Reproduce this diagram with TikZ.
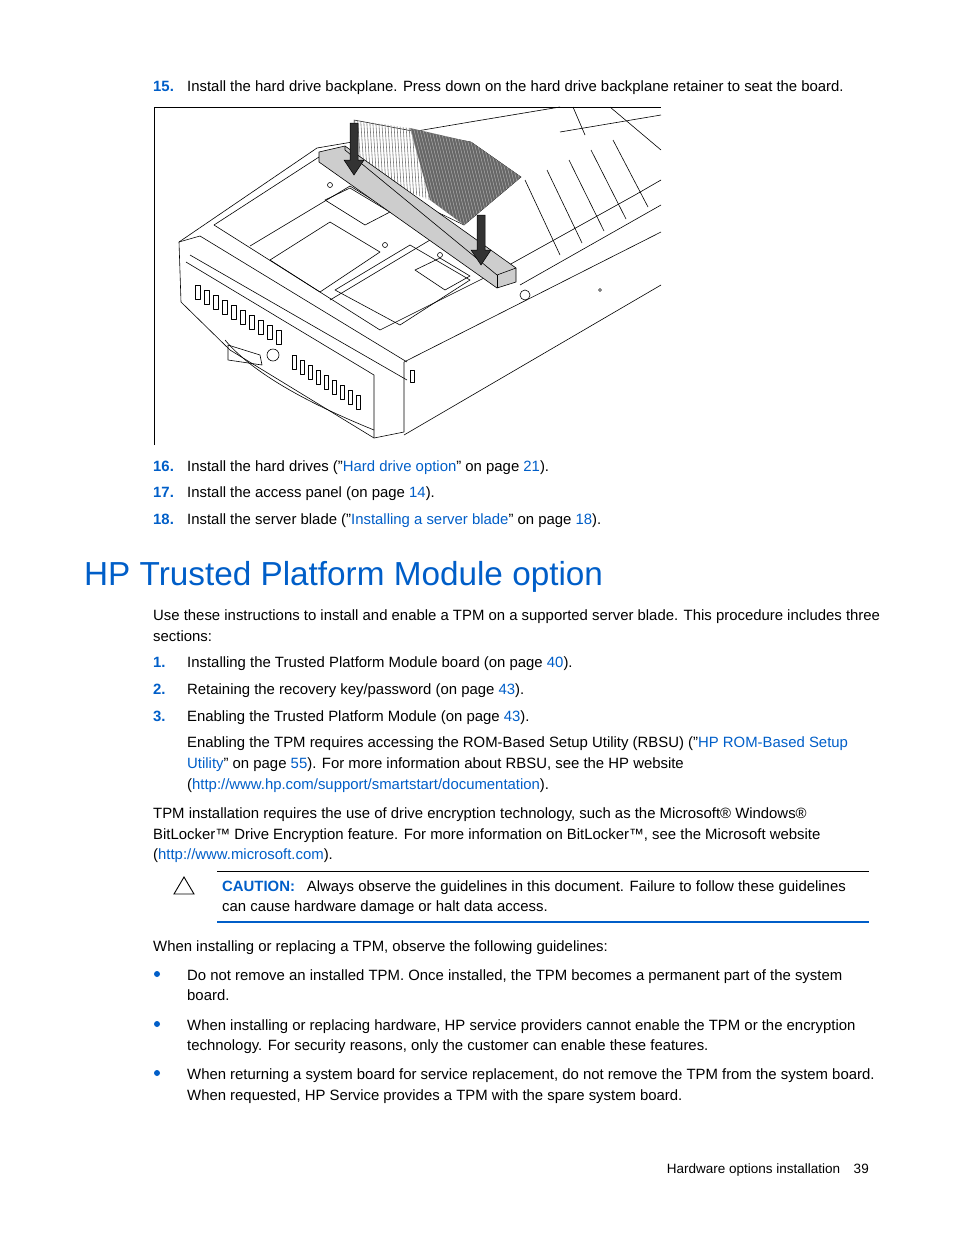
\documentclass[tikz,border=0pt]{standalone}
\usepackage{fontspec}
\setmainfont{Liberation Sans}
\definecolor{hpblue}{RGB}{0,94,200}
\definecolor{bargray}{RGB}{205,205,205}
\definecolor{fin}{RGB}{120,120,120}
\begin{document}
\begin{tikzpicture}[x=1pt,y=-1pt,
  txt/.style={anchor=base west,inner sep=0pt,font=\fontsize{14.9}{17}\selectfont},
  num/.style={txt,text=hpblue,font=\fontsize{14.9}{17}\selectfont\bfseries},
  bul/.style={circle,fill=hpblue,inner sep=0pt,minimum size=6pt},
  ln/.style={draw=black,line width=0.6pt,line join=round},
  arr/.style={draw=black,fill=black!80,line width=0.5pt}]
\useasboundingbox (0,0) rectangle (954,1235);
\def\b{\color{hpblue}}
% step 15
\node[num] (n15) at (153,91) {15.};
\node[txt] (t15) at (187,91) {Install the hard drive backplane. Press down on the hard drive backplane retainer to seat the board.};
% figure frame
\draw[line width=0.8pt] (154,445) -- (154,107) -- (661,107);
% chassis
\begin{scope}[ln]
\fill[white] (179,242) -- (317,148) -- (661,125) -- (661,232) -- (404,362) -- (374,438) -- (181,302) -- cycle;
\draw (179,242) -- (317,148) -- (470,122);
\draw (179,242) -- (181,302) -- (230,350) -- (374,438) -- (404,432) -- (404,362);
\draw (179,242) -- (200,236) -- (407,362);
\draw (190,255) -- (407,380);
\draw (404,362) -- (661,232);
\draw (404,435) -- (661,285);
\draw (374,438) -- (374,375) -- (186,262);
\draw (214,225) -- (319,157);
\draw (214,225) -- (380,330) -- (500,270);
\draw (250,246) -- (350,186) -- (445,244);
\draw (330,300) -- (430,240) -- (500,283);
% drive bays
\draw (270,260) -- (330,222) -- (380,252) -- (320,292) -- cycle;
\draw (335,290) -- (410,245) -- (470,280) -- (400,325) -- cycle;
\draw (325,200) -- (350,188) -- (390,212) -- (365,225) -- cycle;
\draw (415,270) -- (440,258) -- (470,276) -- (445,290) -- cycle;
% right side compartments
\draw (470,122) -- (560,107);
\draw (500,270) -- (635,195) -- (661,180);
\draw (520,285) -- (661,205);
\draw (560,132) -- (661,115);
\foreach \i in {0,1,2,3,4} {
  \draw ({525+\i*22},{180-\i*10}) -- ({560+\i*22},{255-\i*12});
}
\draw (573,107) -- (585,135);
\draw (610,107) -- (661,150);
% front bezel details
\foreach \i in {0,...,9} {
  \draw ({195+\i*9},{285+\i*5}) rectangle ++(5,14);
}
\foreach \i in {0,...,8} {
  \draw ({292+\i*8},{355+\i*5}) rectangle ++(4,14);
}
\draw (225,340) .. controls (250,370) and (300,400) .. (374,430);
\draw (228,345) -- (260,355) -- (262,365) -- (228,360) -- cycle;
\draw (273,355) circle (6);
\draw (525,295) circle (5);
\draw (440,255) circle (2.5); \draw (385,245) circle (2.5); \draw (330,185) circle (2.5);
\draw (600,290) circle (1.5);
\draw (410,370) rectangle ++(4,12);
\end{scope}
% heatsinks
\fill[white,draw=black,line width=0.5pt] (354,120) -- (471,142) -- (521,177) -- (464,225) -- (354,172) -- cycle;
\begin{scope}
\clip (354,120) -- (410,128) -- (430,200) -- (354,172) -- cycle;
\foreach \x in {354,357,...,430} \draw[fin,line width=0.6pt] (\x,110) -- (\x+8,230);
\end{scope}
\begin{scope}
\clip (410,128) -- (471,142) -- (521,177) -- (464,225) -- (430,200) -- cycle;
\fill[black!60] (400,110) rectangle (530,230);
\foreach \x in {400,403,...,530} \draw[black!30,line width=0.4pt] (\x,110) -- (\x+30,230);
\end{scope}
% backplane bar
\fill[bargray,draw=black,line width=0.6pt] (319,152) -- (345,146) -- (516,268) -- (516,282) -- (497,288) -- (319,162) -- cycle;
\draw[line width=0.6pt] (345,146) -- (345,150) -- (497,275) -- (516,268);
\draw[line width=0.6pt] (497,275) -- (497,288);
% arrows
\path[arr] (350,123) -- (358,123) -- (358,160) -- (364,160) -- (354,175) -- (344,160) -- (350,160) -- cycle;
\path[arr] (477,215) -- (485,215) -- (485,250) -- (491,250) -- (481,265) -- (471,250) -- (477,250) -- cycle;
% steps 16-18
\node[num] (n16) at (153,471) {16.};
\node[txt] (t16) at (187,471) {Install the hard drives ("{\b Hard drive option}" on page {\b 21}).};
\node[num] (n17) at (153,497) {17.};
\node[txt] (t17) at (187,497) {Install the access panel (on page {\b 14}).};
\node[num] (n18) at (153,524) {18.};
\node[txt] (t18) at (187,524) {Install the server blade ("{\b Installing a server blade}" on page {\b 18}).};
% heading
\node[anchor=base west,inner sep=0pt,text=hpblue,font=\fontsize{33.3}{40}\selectfont] (h) at (84,585) {HP Trusted Platform Module option};
\node[txt] (p1a) at (153,620) {Use these instructions to install and enable a TPM on a supported server blade. This procedure includes three};
\node[txt] (p1b) at (153,641) {sections:};
\node[num] (n1) at (153,667) {1.};
\node[txt] (t1) at (187,667) {Installing the Trusted Platform Module board (on page {\b 40}).};
\node[num] (n2) at (153,694) {2.};
\node[txt] (t2) at (187,694) {Retaining the recovery key/password (on page {\b 43}).};
\node[num] (n3) at (153,721) {3.};
\node[txt] (t3) at (187,721) {Enabling the Trusted Platform Module (on page {\b 43}).};
\node[txt] (t3a) at (187,747) {Enabling the TPM requires accessing the ROM-Based Setup Utility (RBSU) ("{\b HP ROM-Based Setup}};
\node[txt] (t3b) at (187,768) {{\b Utility}" on page {\b 55}). For more information about RBSU, see the HP website};
\node[txt] (t3c) at (187,789) {({\b http://www.hp.com/support/smartstart/documentation}).};
\node[txt] (p2a) at (153,818) {TPM installation requires the use of drive encryption technology, such as the Microsoft® Windows®};
\node[txt] (p2b) at (153,839) {BitLocker™ Drive Encryption feature. For more information on BitLocker™, see the Microsoft website};
\node[txt] (p2c) at (153,859) {({\b http://www.microsoft.com}).};
% caution
\draw[line width=0.5pt] (217,871) -- (869,871);
\draw[hpblue,line width=1.5pt] (217,922) -- (869,922);
\draw[line width=0.9pt,line join=miter] (184,877) -- (194,894) -- (174,894) -- cycle;
\node[txt] (c1) at (222,891) {{\b\bfseries CAUTION:}\hspace{0.8em}Always observe the guidelines in this document. Failure to follow these guidelines};
\node[txt] (c2) at (222,911) {can cause hardware damage or halt data access.};
\node[txt] (p3) at (153,951) {When installing or replacing a TPM, observe the following guidelines:};
\node[bul] (b1) at (157,974) {};
\node[txt] (u1a) at (187,980) {Do not remove an installed TPM. Once installed, the TPM becomes a permanent part of the system};
\node[txt] (u1b) at (187,1000) {board.};
\node[bul] (b2) at (157,1024) {};
\node[txt] (u2a) at (187,1030) {When installing or replacing hardware, HP service providers cannot enable the TPM or the encryption};
\node[txt] (u2b) at (187,1050) {technology. For security reasons, only the customer can enable these features.};
\node[bul] (b3) at (157,1073) {};
\node[txt] (u3a) at (187,1079) {When returning a system board for service replacement, do not remove the TPM from the system board.};
\node[txt] (u3b) at (187,1100) {When requested, HP Service provides a TPM with the spare system board.};
\node[anchor=base east,inner sep=0pt,font=\fontsize{13.5}{16}\selectfont] (foot) at (869,1173) {Hardware options installation\hspace{1em}39};
\end{tikzpicture}
\end{document}
